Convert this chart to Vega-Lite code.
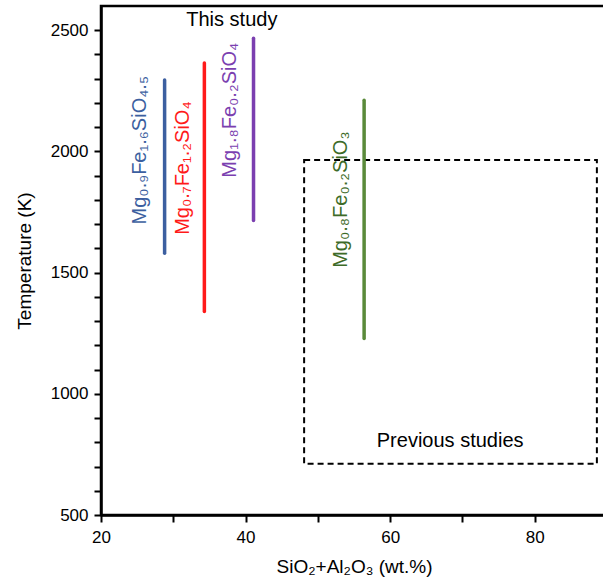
{
  "$schema": "https://vega.github.io/schema/vega-lite/v6.json",
  "autosize": {"type": "none"},
  "padding": {"left": 101, "top": 6, "right": 0, "bottom": 68},
  "width": 506,
  "height": 509,
  "config": {
    "font": "Liberation Sans",
    "view": {"stroke": "black", "strokeWidth": 2.5}
  },
  "datasets": {
    "lines": [
      {"name": "Mg₀.₉Fe₁.₆SiO₄.₅", "x": 28.8, "t": 1580, "t2": 2295},
      {"name": "Mg₀.₇Fe₁.₂SiO₄", "x": 34.3, "t": 1340, "t2": 2365},
      {"name": "Mg₁.₈Fe₀.₂SiO₄", "x": 41.1, "t": 1715, "t2": 2467},
      {"name": "Mg₀.₈Fe₀.₂SiO₃", "x": 56.4, "t": 1228, "t2": 2211}
    ],
    "labels": [
      {"name": "Mg₀.₉Fe₁.₆SiO₄.₅", "x": 25.4, "t": 2005},
      {"name": "Mg₀.₇Fe₁.₂SiO₄", "x": 31.3, "t": 1931},
      {"name": "Mg₁.₈Fe₀.₂SiO₄", "x": 37.8, "t": 2170},
      {"name": "Mg₀.₈Fe₀.₂SiO₃", "x": 53.2, "t": 1801}
    ],
    "box": [
      {"x": 48.1, "x2": 88.6, "t": 711, "t2": 1965}
    ],
    "notes": [
      {"text": "This study", "x": 38.1, "t": 2541},
      {"text": "Previous studies", "x": 68.3, "t": 805}
    ]
  },
  "encoding": {
    "x": {"field": "x", "type": "quantitative", "scale": {"domain": [20, 90], "nice": false, "zero": false},
      "axis": {"title": "SiO₂+Al₂O₃ (wt.%)", "values": [20, 30, 40, 50, 60, 70, 80, 90], "format": "d",
        "labelExpr": "(datum.value == 20 || datum.value == 40 || datum.value == 60 || datum.value == 80) ? datum.label : ''",
        "labelOverlap": false, "labelFlush": false, "domain": true, "domainColor": "black", "domainWidth": 2.5,
        "ticks": true, "tickSize": 7, "tickWidth": 2, "tickColor": "black", "grid": false,
        "labelFont": "Liberation Sans", "labelFontSize": 17, "labelColor": "black", "labelPadding": 7,
        "titleFont": "Liberation Sans", "titleFontSize": 19, "titleFontWeight": "normal", "titleColor": "black", "titlePadding": 12}},
    "y": {"field": "t", "type": "quantitative", "scale": {"domain": [500, 2600], "nice": false, "zero": false},
      "axis": {"title": "Temperature (K)", "values": [500, 600, 700, 800, 900, 1000, 1100, 1200, 1300, 1400, 1500, 1600, 1700, 1800, 1900, 2000, 2100, 2200, 2300, 2400, 2500], "format": "d",
        "labelExpr": "(datum.value == 500 || datum.value == 1000 || datum.value == 1500 || datum.value == 2000 || datum.value == 2500) ? datum.label : ''",
        "labelOverlap": false, "labelFlush": false, "domain": true, "domainColor": "black", "domainWidth": 2.5,
        "ticks": true, "tickSize": 7, "tickWidth": 2, "tickColor": "black", "grid": false,
        "labelFont": "Liberation Sans", "labelFontSize": 17, "labelColor": "black", "labelPadding": 6,
        "titleFont": "Liberation Sans", "titleFontSize": 19, "titleFontWeight": "normal", "titleColor": "black", "titlePadding": 16}}
  },
  "layer": [
    {
      "data": {"name": "box"},
      "mark": {"type": "rect", "fill": null, "stroke": "black", "strokeWidth": 2, "strokeDash": [6, 4]},
      "encoding": {
        "x2": {"field": "x2"},
        "y2": {"field": "t2"}
      }
    },
    {
      "data": {"name": "lines"},
      "mark": {"type": "rule", "strokeWidth": 3.5, "strokeCap": "round"},
      "encoding": {
        "y2": {"field": "t2"},
        "color": {"field": "name", "type": "nominal", "legend": null,
          "scale": {"domain": ["Mg₀.₉Fe₁.₆SiO₄.₅", "Mg₀.₇Fe₁.₂SiO₄", "Mg₁.₈Fe₀.₂SiO₄", "Mg₀.₈Fe₀.₂SiO₃"],
            "range": ["#3c5fa0", "#ff1a1a", "#7b3fb0", "#5a8a3a"]}}
      }
    },
    {
      "data": {"name": "labels"},
      "mark": {"type": "text", "angle": 270, "align": "center", "baseline": "middle", "fontSize": 20, "font": "Liberation Sans"},
      "encoding": {
        "text": {"field": "name"},
        "color": {"field": "name", "type": "nominal", "legend": null,
          "scale": {"domain": ["Mg₀.₉Fe₁.₆SiO₄.₅", "Mg₀.₇Fe₁.₂SiO₄", "Mg₁.₈Fe₀.₂SiO₄", "Mg₀.₈Fe₀.₂SiO₃"],
            "range": ["#3c5fa0", "#ff1a1a", "#7b3fb0", "#3d6b28"]}}
      }
    },
    {
      "data": {"name": "notes"},
      "mark": {"type": "text", "align": "center", "baseline": "middle", "fontSize": 20, "font": "Liberation Sans", "color": "black"},
      "encoding": {
        "text": {"field": "text"}
      }
    }
  ],
  "resolve": {"scale": {"color": "independent"}}
}
